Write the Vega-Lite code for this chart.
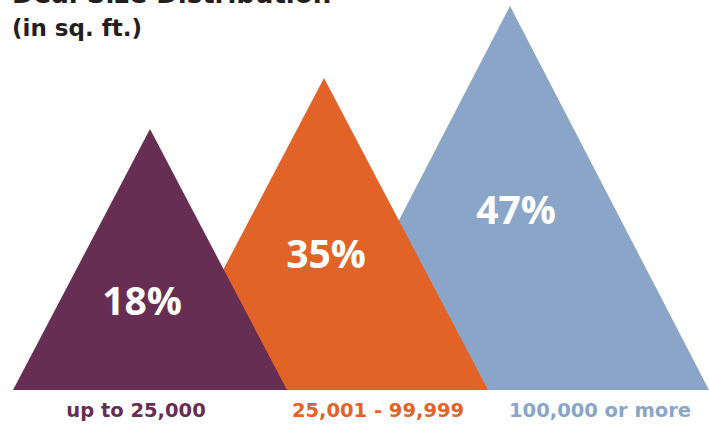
{
  "$schema": "https://vega.github.io/schema/vega-lite/v6.json",
  "width": 709,
  "height": 430,
  "padding": 0,
  "autosize": {"type": "none"},
  "config": {"view": {"stroke": null}},
  "title": {
    "text": "Deal Size Distribution",
    "subtitle": "(in sq. ft.)",
    "anchor": "start",
    "frame": "group",
    "orient": "top",
    "offset": -41,
    "dx": 12,
    "font": "DejaVu Sans",
    "fontSize": 26,
    "fontWeight": "bold",
    "color": "#231f20",
    "subtitleFont": "DejaVu Sans",
    "subtitleFontSize": 23,
    "subtitleFontWeight": "bold",
    "subtitleColor": "#231f20",
    "subtitlePadding": 10
  },
  "datasets": {
    "tri": [
      {"group": "100,000 or more", "x": 311, "y": 0},
      {"group": "100,000 or more", "x": 510, "y": 384},
      {"group": "100,000 or more", "x": 709, "y": 0},
      {"group": "25,001 - 99,999", "x": 160, "y": 0},
      {"group": "25,001 - 99,999", "x": 324, "y": 312},
      {"group": "25,001 - 99,999", "x": 488, "y": 0},
      {"group": "up to 25,000", "x": 13, "y": 0},
      {"group": "up to 25,000", "x": 150, "y": 261},
      {"group": "up to 25,000", "x": 287, "y": 0}
    ],
    "cats": [
      {"group": "up to 25,000", "pct": "18%", "px": 142, "py": 75, "lx": 136, "ly": -27},
      {"group": "25,001 - 99,999", "pct": "35%", "px": 326, "py": 122, "lx": 378, "ly": -27},
      {"group": "100,000 or more", "pct": "47%", "px": 516, "py": 166, "lx": 600, "ly": -27}
    ]
  },
  "layer": [
    {
      "data": {"name": "tri"},
      "transform": [{"filter": "datum.group === '100,000 or more'"}],
      "mark": {"type": "area", "interpolate": "linear", "color": "#8aa5c8"},
      "encoding": {
        "x": {"field": "x", "type": "quantitative", "scale": {"domain": [0, 709], "nice": false, "zero": false}, "axis": null},
        "y": {"field": "y", "type": "quantitative", "scale": {"domain": [-40, 390], "nice": false, "zero": false}, "axis": null, "stack": null},
        "y2": {"datum": 0}
      }
    },
    {
      "data": {"name": "tri"},
      "transform": [{"filter": "datum.group === '25,001 - 99,999'"}],
      "mark": {"type": "area", "interpolate": "linear", "color": "#e26327"},
      "encoding": {
        "x": {"field": "x", "type": "quantitative"},
        "y": {"field": "y", "type": "quantitative", "stack": null},
        "y2": {"datum": 0}
      }
    },
    {
      "data": {"name": "tri"},
      "transform": [{"filter": "datum.group === 'up to 25,000'"}],
      "mark": {"type": "area", "interpolate": "linear", "color": "#672e53"},
      "encoding": {
        "x": {"field": "x", "type": "quantitative"},
        "y": {"field": "y", "type": "quantitative", "stack": null},
        "y2": {"datum": 0}
      }
    },
    {
      "data": {"name": "cats"},
      "mark": {"type": "text", "font": "Open Sans", "fontSize": 39, "fontWeight": "bold", "color": "#ffffff", "align": "center", "baseline": "alphabetic"},
      "encoding": {
        "x": {"field": "px", "type": "quantitative"},
        "y": {"field": "py", "type": "quantitative"},
        "text": {"field": "pct"}
      }
    },
    {
      "data": {"name": "cats"},
      "mark": {"type": "text", "font": "DejaVu Sans", "fontSize": 19.5, "fontWeight": "bold", "align": "center", "baseline": "alphabetic"},
      "encoding": {
        "x": {"field": "lx", "type": "quantitative"},
        "y": {"field": "ly", "type": "quantitative"},
        "text": {"field": "group"},
        "color": {
          "field": "group",
          "type": "nominal",
          "scale": {"domain": ["up to 25,000", "25,001 - 99,999", "100,000 or more"], "range": ["#672e53", "#e26327", "#8aa5c8"]},
          "legend": null
        }
      }
    }
  ]
}
